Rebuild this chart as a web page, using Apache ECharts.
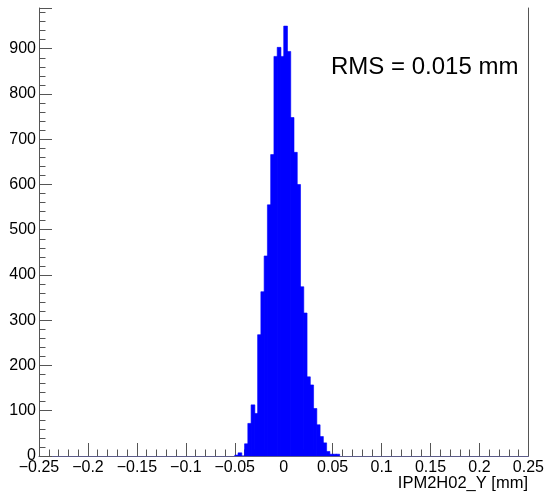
<!DOCTYPE html>
<html>
<head>
<meta charset="utf-8">
<script src="https://cdn.jsdelivr.net/npm/echarts@6/dist/echarts.min.js"></script>
<style>
  html, body { margin: 0; padding: 0; background: #fff; }
  #chart { width: 547px; height: 494px; }
</style>
</head>
<body>
<div id="chart"></div>
<script>
// Histogram binning: 150 bins over [-0.25, 0.25]; only the populated bins are listed.
const firstBinLow = -0.05;
const binWidth = 0.5 / 150;
// Entries per bin, starting at firstBinLow
const counts = [2, 7, 0, 27, 72, 113, 94, 268, 363, 442, 555, 666, 883, 903, 883, 950,
                894, 748, 671, 600, 374, 316, 175, 157, 105, 69, 43, 29, 10, 4, 4, 4];
const xRange = [-0.25, 0.25];
const yRange = [0, 990];
const xTitle = 'IPM2H02_Y [mm]';
const rmsText = 'RMS = 0.015 mm';

const bins = counts.map((c, i) => {
  const lo = firstBinLow + i * binWidth;
  return [lo, lo + binWidth, c];
});

const axisGrey = '#555555';
const fontFamily = '"Liberation Sans", Arial, Helvetica, sans-serif';

function fmtX(v) {
  const s = String(+v.toFixed(3));
  return s.replace('-', '\u2212');
}

const chart = echarts.init(document.getElementById('chart'), null, { renderer: 'canvas' });
chart.setOption({
  animation: false,
  backgroundColor: '#ffffff',
  grid: { left: 39, right: 18, top: 8, bottom: 38, containLabel: false },
  xAxis: {
    type: 'value',
    min: xRange[0], max: xRange[1], interval: 0.05,
    axisLine: { show: true, lineStyle: { color: '#5c5c8a', width: 1 } },
    axisTick: { show: true, inside: true, length: 13, lineStyle: { color: axisGrey } },
    minorTick: { show: true, splitNumber: 5, length: 6.5, lineStyle: { color: axisGrey } },
    splitLine: { show: false },
    axisLabel: { formatter: fmtX, color: '#000', fontSize: 16, fontFamily: fontFamily, margin: 4 }
  },
  yAxis: [{
    type: 'value',
    min: yRange[0], max: yRange[1], interval: 100,
    axisLine: { show: true, onZero: false, lineStyle: { color: axisGrey, width: 1 } },
    axisTick: { show: true, inside: true, length: 13, lineStyle: { color: axisGrey } },
    minorTick: { show: true, splitNumber: 5, length: 6.5, lineStyle: { color: axisGrey } },
    splitLine: { show: false },
    axisLabel: { color: '#000', fontSize: 16, fontFamily: fontFamily, margin: 3, showMaxLabel: false }
  }, {
    type: 'value', position: 'right',
    min: yRange[0], max: yRange[1],
    axisLine: { show: true, onZero: false, lineStyle: { color: axisGrey, width: 1 } },
    axisTick: { show: false }, axisLabel: { show: false }, splitLine: { show: false }
  }],
  series: [{
    type: 'custom',
    xAxisIndex: 0, yAxisIndex: 0,
    data: bins,
    clip: true,
    renderItem: function (params, api) {
      const top = api.coord([api.value(0), api.value(2)]);
      const base = api.coord([api.value(1), 0]);
      return {
        type: 'rect',
        shape: { x: top[0], y: top[1], width: base[0] - top[0] + 0.5, height: base[1] - top[1] },
        style: { fill: '#0000ff', stroke: '#0000ff', lineWidth: 0.6 }
      };
    }
  }],
  graphic: [{
    type: 'text', left: 331, top: 55,
    style: { text: rmsText, fill: '#000', font: '24px ' + fontFamily }
  }, {
    type: 'text', right: 19, top: 475,
    style: { text: xTitle, fill: '#000', font: '16.5px ' + fontFamily }
  }]
});
</script>
</body>
</html>
